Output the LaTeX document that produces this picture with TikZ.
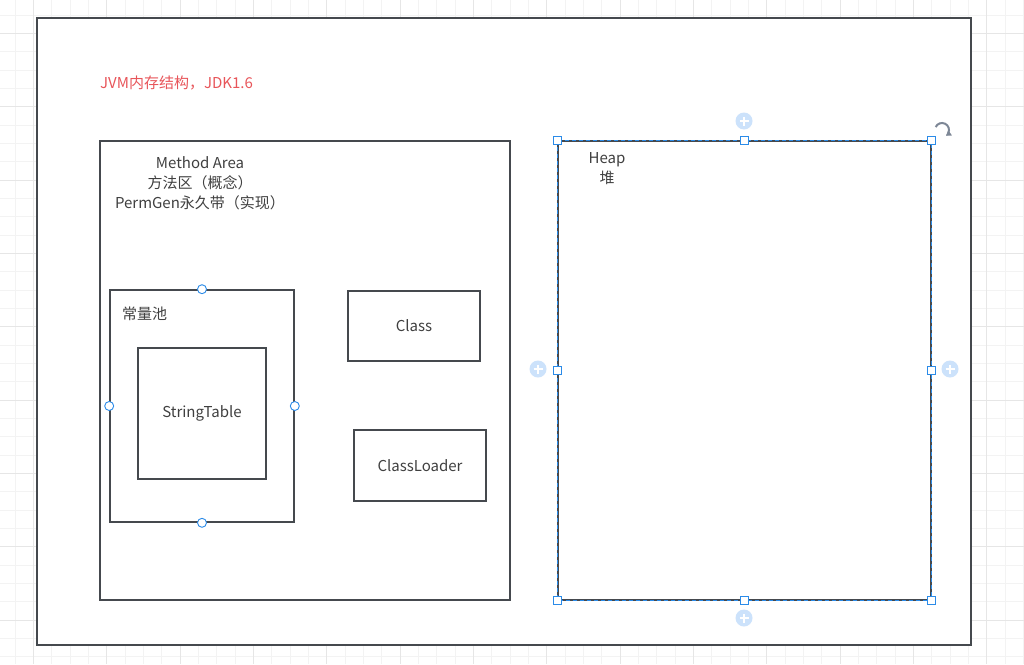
\documentclass[tikz,border=0pt]{standalone}
\usepackage{fontspec}
\setmainfont{Noto Sans CJK SC}
\usepackage{xcolor}
\usepackage{tikz}
\usetikzlibrary{arrows.meta}
\definecolor{linegray}{HTML}{45494E}
\definecolor{textgray}{HTML}{404040}
\definecolor{titlered}{HTML}{E8555A}
\definecolor{selblue}{HTML}{2B8BE8}
\definecolor{pluslight}{HTML}{CCE2FB}
\definecolor{rotgray}{HTML}{7D8796}
\definecolor{gridminor}{HTML}{F3F3F3}
\definecolor{gridmajor}{HTML}{E6E6E6}

\begin{document}
\begin{tikzpicture}[x=1pt, y=-1pt,
  font=\fontsize{15}{20}\selectfont,
  frame/.style={draw=linegray, line width=1.8pt, fill=white},
  box/.style={draw=linegray, line width=1.6pt, inner sep=0pt},
  caption/.style={text=textgray, inner sep=0pt, align=center},
  sqhandle/.style={draw=selblue, fill=white, line width=0.9pt, minimum size=8, inner sep=0pt},
  circhandle/.style={circle, draw=selblue, fill=white, line width=0.9pt, minimum size=9, inner sep=0pt},
  plusbtn/.style={circle, fill=pluslight, minimum size=17, inner sep=0pt,
    path picture={\draw[white, line width=1.3pt]
      ([xshift=-4.5pt]path picture bounding box.center) -- ([xshift=4.5pt]path picture bounding box.center)
      ([yshift=-4.5pt]path picture bounding box.center) -- ([yshift=4.5pt]path picture bounding box.center);}}
]
  \useasboundingbox (0,0) rectangle (1024,664);

  % canvas grid
  \foreach \i in {0,...,56}
    \draw[gridminor, line width=0.8pt] (-3.33+\i*18.333,0) -- (-3.33+\i*18.333,664);
  \foreach \i in {0,...,37}
    \draw[gridminor, line width=0.8pt] (0,-3.33+\i*18.333) -- (1024,-3.33+\i*18.333);
  \foreach \i in {2,6,...,54}
    \draw[gridmajor, line width=0.9pt] (-3.33+\i*18.333,0) -- (-3.33+\i*18.333,664);
  \foreach \i in {2,6,...,34}
    \draw[gridmajor, line width=0.9pt] (0,-3.33+\i*18.333) -- (1024,-3.33+\i*18.333);

  \node[frame, minimum width=934, minimum height=627] (jvm) at (504,331.5) {};
  \node[anchor=west, text=titlered, inner sep=0pt] (title) at (100,83) {JVM内存结构，JDK1.6};

  % method area
  \node[box, minimum width=410, minimum height=459] (method) at (305,370.5) {};
  \node[caption] (methodtxt) at (200,183) {Method Area\\方法区（概念）\\PermGen永久带（实现）};

  \node[box, minimum width=184, minimum height=232] (pool) at (202,406) {};
  \node[caption, anchor=west] (pooltxt) at (122,314) {常量池};
  \node[box, minimum width=128, minimum height=131, text=textgray] (strtable) at (202,413.5) {StringTable};

  \node[box, minimum width=132, minimum height=70, text=textgray] (class) at (414,326) {Class};
  \node[box, minimum width=132, minimum height=71, text=textgray] (loader) at (420,465.5) {ClassLoader};

  \foreach \a/\n in {north/pn, east/pe, south/ps, west/pw}
    \node[circhandle] (\n) at (pool.\a) {};

  % heap, selected
  \node[box, minimum width=373, minimum height=459] (heap) at (744.5,370.5) {};
  \draw[selblue, line width=1.3pt, dash pattern=on 4pt off 3pt]
    (heap.north west) rectangle (heap.south east);
  \node[caption] (heaptxt) at (607,169) {Heap\\堆};

  \foreach \a/\n in {north west/hnw, north/hn, north east/hne, east/he,
                     south east/hse, south/hs, south west/hsw, west/hw}
    \node[sqhandle] (\n) at (heap.\a) {};

  \node[plusbtn] (addn) at (744,121) {};
  \node[plusbtn] (adds) at (744,618) {};
  \node[plusbtn] (addw) at (538,369) {};
  \node[plusbtn] (adde) at (950,369) {};

  \coordinate (rot) at (942,130);
  \draw[rotgray, line width=2pt, -{Triangle[length=5pt, width=6pt]}]
    ([shift={(-155:7)}]rot) arc[start angle=-155, end angle=55, radius=7];
\end{tikzpicture}
\end{document}
